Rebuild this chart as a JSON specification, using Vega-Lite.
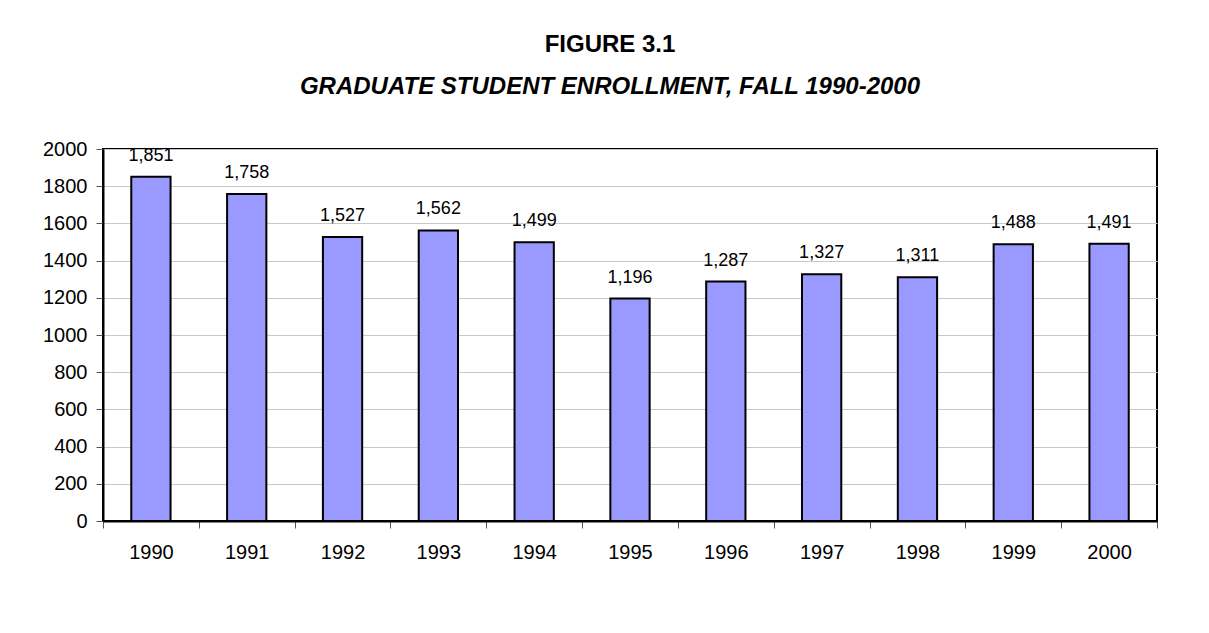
{
  "$schema": "https://vega.github.io/schema/vega-lite/v6.json",
  "width": 1054,
  "height": 372,
  "autosize": {"type": "none"},
  "padding": {"left": 103, "top": 149, "right": 52, "bottom": 112},
  "background": "white",
  "title": {
    "text": "FIGURE 3.1",
    "subtitle": "GRADUATE STUDENT ENROLLMENT, FALL 1990-2000",
    "font": "Liberation Sans",
    "fontSize": 24,
    "fontWeight": "bold",
    "color": "black",
    "subtitleFont": "Liberation Sans",
    "subtitleFontSize": 24,
    "subtitleFontWeight": "bold",
    "subtitleFontStyle": "italic",
    "subtitleColor": "black",
    "subtitlePadding": 18,
    "offset": 40,
    "dx": -20,
    "anchor": "middle"
  },
  "data": {
    "values": [
      {"year": "1990", "enrollment": 1851},
      {"year": "1991", "enrollment": 1758},
      {"year": "1992", "enrollment": 1527},
      {"year": "1993", "enrollment": 1562},
      {"year": "1994", "enrollment": 1499},
      {"year": "1995", "enrollment": 1196},
      {"year": "1996", "enrollment": 1287},
      {"year": "1997", "enrollment": 1327},
      {"year": "1998", "enrollment": 1311},
      {"year": "1999", "enrollment": 1488},
      {"year": "2000", "enrollment": 1491}
    ]
  },
  "encoding": {
    "x": {
      "field": "year",
      "type": "ordinal",
      "scale": {"paddingInner": 0, "paddingOuter": 0},
      "axis": {
        "title": null,
        "labelAngle": 0,
        "labelFont": "Liberation Sans",
        "labelFontSize": 20,
        "labelColor": "black",
        "tickBand": "extent",
        "tickSize": 7,
        "tickColor": "#555555",
        "domainColor": "black",
        "domainWidth": 2,
        "labelPadding": 14,
        "grid": false
      }
    },
    "y": {
      "field": "enrollment",
      "type": "quantitative",
      "scale": {"domain": [0, 2000], "nice": false},
      "axis": {
        "title": null,
        "values": [0, 200, 400, 600, 800, 1000, 1200, 1400, 1600, 1800, 2000],
        "format": "d",
        "labelFont": "Liberation Sans",
        "labelFontSize": 20,
        "labelColor": "black",
        "tickSize": 7,
        "tickColor": "#555555",
        "labelPadding": 9,
        "domainColor": "black",
        "domainWidth": 2,
        "grid": true,
        "gridColor": "#c8c8c8",
        "gridWidth": 1
      }
    }
  },
  "layer": [
    {
      "mark": {"type": "bar", "width": {"band": 0.41}, "fill": "#9999ff", "stroke": "black", "strokeWidth": 2}
    },
    {
      "mark": {"type": "text", "dy": -16, "baseline": "alphabetic", "font": "Liberation Sans", "fontSize": 18, "color": "black"},
      "encoding": {
        "text": {"field": "enrollment", "type": "quantitative", "format": ","}
      }
    }
  ],
  "config": {
    "view": {"stroke": "black", "strokeWidth": 2}
  }
}
